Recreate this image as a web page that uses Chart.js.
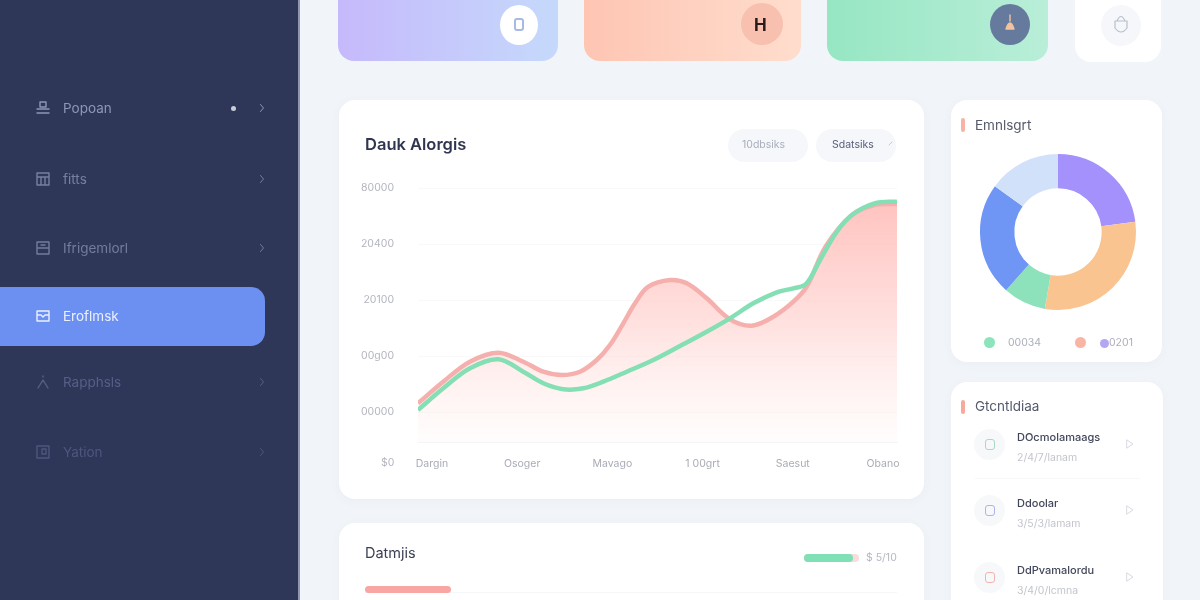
<!DOCTYPE html>
<html><head><meta charset="utf-8">
<script src="https://cdn.jsdelivr.net/npm/chart.js@4"></script>
<style>
html,body{margin:0;padding:0;width:1200px;height:600px;overflow:hidden;background:#F1F4F8;font-family:Inter,"Noto Sans",sans-serif}
.b{position:absolute;box-sizing:border-box}
.t{position:absolute;white-space:nowrap;line-height:1;transform:translateY(-50%);filter:blur(.35px)}
.card{background:#fff;border-radius:16px;box-shadow:0 2px 10px rgba(120,135,170,.05)}
canvas{position:absolute}
svg{position:absolute;overflow:visible;fill:none;stroke-linecap:round;stroke-linejoin:round}
</style></head><body>
<div class="b" style="left:0;top:0;width:299px;height:600px;background:#2F3759"></div>
<div class="b" style="left:298px;top:0;width:1.5px;height:600px;background:#8F97B4"></div>
<div class="b" style="left:0;top:287px;width:265px;height:59px;background:#6C90F1;border-radius:0 14px 14px 0"></div>
<div id="side"></div>
<div class="b" style="left:231px;top:106px;width:5px;height:5px;border-radius:50%;background:#C8CDDD"></div>

<div class="b" style="left:338px;top:-20px;width:220px;height:81px;border-radius:16px;background:linear-gradient(90deg,#C6B9FB,#C5D9FB)"></div>
<div class="b" style="left:584px;top:-20px;width:217px;height:81px;border-radius:16px;background:linear-gradient(90deg,#FEC5B3,#FFDDCD)"></div>
<div class="b" style="left:827px;top:-20px;width:221px;height:81px;border-radius:16px;background:linear-gradient(90deg,#96E6C3,#B9EED8)"></div>
<div class="b" style="left:1075px;top:-20px;width:86px;height:82px;border-radius:16px;background:#fff"></div>
<div class="b" style="left:500px;top:5px;width:38px;height:40px;border-radius:50%;background:#fff"></div>
<div class="b" style="left:514px;top:18px;width:10px;height:13px;border-radius:3px;border:2px solid #A9B9E6"></div>
<div class="b" style="left:741px;top:3px;width:42px;height:42px;border-radius:50%;background:#F8C0AE"></div>
<div class="t" style="left:754px;top:25px;font:700 17px Inter;color:#2a1c1c">H</div>
<div class="b" style="left:990px;top:4px;width:40px;height:41px;border-radius:50%;background:#657A9D"></div>
<svg style="left:1010px;top:15px" width="1" height="1"><path d="M0 0V6M-4 14Q0 2 4 14Z" fill="#F2C39F" stroke="#F2C39F" stroke-width="1.4"/></svg>
<div class="b" style="left:1101px;top:5px;width:40px;height:41px;border-radius:50%;background:#F5F7FA"></div>
<svg style="left:1121px;top:18px" width="1" height="1"><path d="M-6 3H6V10Q0 18 -6 10ZM-4 3Q0 -6 4 3" stroke="#B9BFCC" stroke-width="1.2"/></svg>

<div class="b card" style="left:339px;top:100px;width:585px;height:399px"></div>
<div class="t" style="left:365px;top:144px;font-size:16.5px;font-weight:600;color:#30364F">Dauk Alorgis</div>
<div class="b" style="left:728px;top:129px;width:80px;height:33px;border-radius:17px;background:#F5F7FB"></div>
<div class="b" style="left:816px;top:129px;width:80px;height:33px;border-radius:17px;background:#F5F7FB"></div>
<div class="t" style="left:742px;top:145px;font-size:10.5px;color:#A9AEBC">10dbsiks</div>
<div class="t" style="left:832px;top:145px;font-size:10.5px;color:#59607A">Sdatsiks</div>
<svg style="left:891px;top:144px" width="1" height="1"><path d="M-2 1L1 -2" stroke="#C5CAD5" stroke-width="1"/></svg>
<div class="t" style="left:381px;top:463px;font-size:10.5px;color:#B3B6BF">$0</div>
<canvas id="lineChart" style="left:340px;top:170px;width:580px;height:320px"></canvas>

<div class="b card" style="left:339px;top:523px;width:585px;height:110px"></div>
<div class="t" style="left:365px;top:553px;font-size:14.5px;color:#3A3F55">Datmjis</div>
<div class="b" style="left:804px;top:554px;width:55px;height:8px;border-radius:4px;background:#F9DCDC"></div>
<div class="b" style="left:804px;top:554px;width:49px;height:8px;border-radius:4px;background:#7FE0B5"></div>
<div class="t" style="left:866px;top:558px;font-size:10.5px;color:#B5B8C2">$ 5/10</div>
<div class="b" style="left:365px;top:592px;width:532px;height:1px;background:#F6F7F9"></div>
<div class="b" style="left:365px;top:586px;width:86px;height:7px;border-radius:4px;background:#F8A5A3"></div>

<div class="b card" style="left:951px;top:100px;width:211px;height:262px"></div>
<div class="b" style="left:961px;top:118px;width:4px;height:14px;border-radius:2px;background:#F7B3A6"></div>
<div class="t" style="left:975px;top:126px;font-size:13.5px;color:#555A6C">Emnlsgrt</div>
<canvas id="ringChart" style="left:968px;top:142px;width:180px;height:180px"></canvas>
<div class="b" style="left:984px;top:337px;width:11px;height:11px;border-radius:50%;background:#8DE3BB"></div>
<div class="t" style="left:1008px;top:343px;font-size:10.5px;color:#ABAFBA">00034</div>
<div class="b" style="left:1075px;top:337px;width:11px;height:11px;border-radius:50%;background:#F9B4A3"></div>
<div class="b" style="left:1100px;top:339px;width:9px;height:9px;border-radius:50%;background:#B3A7F4"></div>
<div class="t" style="left:1109px;top:343px;font-size:10.5px;color:#ABAFBA">0201</div>

<div class="b card" style="left:951px;top:382px;width:212px;height:260px"></div>
<div class="b" style="left:961px;top:400px;width:4px;height:14px;border-radius:2px;background:#F7A99E"></div>
<div class="t" style="left:975px;top:407px;font-size:13.5px;color:#555A6C">Gtcntldiaa</div>
<div id="rows"></div>

<script>
// ---- line chart data ----
const xTickPositions = [0, 1, 2, 3, 4, 5];
const xTickLabels = ["Dargin", "Osoger", "Mavago", "1 00grt", "Saesut", "Obano"];
const yTickPositions = [20000, 40000, 60000, 80000, 100000];
const yTickLabels = ["00000", "00g00", "20100", "20400", "80000"];
const pinkX = [-0.155, 0.125, 0.421, 0.735, 1.012, 1.234, 1.438, 1.641, 1.826, 1.973, 2.121, 2.251, 2.398, 2.639, 2.824, 3.045, 3.304, 3.544, 3.784, 4.006, 4.154, 4.363, 4.655, 4.905, 5.155];
const pinkY = [23107, 30821, 37964, 41179, 37964, 34393, 33214, 34393, 38571, 43929, 51678, 58821, 64750, 67143, 65964, 60607, 53107, 50821, 54036, 59393, 64750, 79046, 90356, 93927, 94283];
const greenX = [-0.155, 0.125, 0.421, 0.735, 1.012, 1.234, 1.456, 1.677, 1.899, 2.159, 2.453, 2.749, 3.045, 3.304, 3.562, 3.822, 4.006, 4.146, 4.302, 4.488, 4.655, 4.905, 5.155];
const greenY = [20714, 28464, 35607, 38821, 34393, 30250, 28107, 28464, 30821, 34393, 38571, 43571, 48679, 53464, 58821, 62750, 64179, 65714, 74286, 84400, 90356, 94523, 95118];
const yBase = 9286;
// ---- ring chart data ----
const ringLabels = ["Purple", "Orange", "Green", "Blue", "Sky"];
const ringValues = [22.9, 29.8, 8.9, 23.4, 15.0];
const ringColors = ["#A491FB", "#F9C490", "#8DE2BB", "#6F96F5", "#D2E1FA"];
// ---- page text ----
const sideLabels = ["Popoan", "fitts", "Ifrigemlorl", "Eroflmsk", "Rapphsls", "Yation"];
const rowTitles = ["DOcmolamaags", "Ddoolar", "DdPvamalordu"];
const rowSubs = ["2/4/7/lanam", "3/5/3/lamam", "3/4/0/lcmna"];

const sideY = [108, 179, 248, 316, 382, 452];
const sideCol = ["#8E96B4", "#76809F", "#727C9C", "#EAF0FF", "#565F86", "#4D577C"];
const sideIcon = [
  "M-3 -6H3V-1H-3ZM-6 1H6M-6 5H6", "M-6 -6H6V6H-6ZM-6 -2H6M-2 -2V6M2 -2V6",
  "M-6 -6H6V6H-6ZM-6 0H6M-2 -3H2", "M-6 -5H6V5H-6ZM-6 -1H-2L0 1L2 -1H6",
  "M0 -6V-5M0 -2L-5 6M0 -2L5 6", "M-6 -6H6V6H-6ZM-1 -3H3V2H-1Z"];
document.getElementById('side').innerHTML = sideLabels.map((s, i) =>
  `<svg style="left:43px;top:${sideY[i]}px" width="1" height="1"><path d="${sideIcon[i]}" stroke="${sideCol[i]}" stroke-width="1.4"/></svg>
   <div class="t" style="left:63px;top:${sideY[i]+1}px;font-size:13.5px;color:${sideCol[i]}">${s}</div>` +
  (i === 3 ? '' : `<svg style="left:262px;top:${sideY[i]}px" width="1" height="1"><path d="M-1.5 -3.5L1.5 0L-1.5 3.5" stroke="${sideCol[i]}" stroke-width="1"/></svg>`)
).join('');
const rowY = [444, 510, 577], rowIc = ["#A9D9C4", "#B3B0EC", "#F3B4AE"];
document.getElementById('rows').innerHTML = rowTitles.map((s, i) =>
  `<div class="b" style="left:974px;top:${rowY[i]-15}px;width:31px;height:31px;border-radius:50%;background:#F6F8FA"></div>
   <div class="b" style="left:985px;top:${rowY[i]-5}px;width:10px;height:11px;border-radius:3px;border:1.5px solid ${rowIc[i]}"></div>
   <div class="t" style="left:1017px;top:${rowY[i]-7}px;font-size:11px;font-weight:500;color:#41465A">${s}</div>
   <div class="t" style="left:1017px;top:${rowY[i]+14}px;font-size:10.5px;color:#C2C5CD">${rowSubs[i]}</div>
   <svg style="left:1130px;top:${rowY[i]}px" width="1" height="1"><path d="M-3 -4L3 0L-3 4Z" stroke="#D7DAE1" stroke-width="1"/></svg>`
).join('') + '<div class="b" style="left:975px;top:478px;width:165px;height:1px;background:#F7F8FA"></div>';

const toPts = (xs, ys) => xs.map((x, i) => ({x, y: ys[i]}));
const lineCanvas = document.getElementById('lineChart');
new Chart(lineCanvas, {
  type: 'line',
  data: { datasets: [
    { label: 'Green', order: 1, data: toPts(greenX, greenY), borderColor: '#85DFB5', borderWidth: 4.5,
      tension: 0.35, pointRadius: 0, fill: false },
    { label: 'Pink', order: 2, data: toPts(pinkX, pinkY), borderColor: '#F5B0AE', borderWidth: 4.5,
      tension: 0.35, pointRadius: 0, fill: {value: yBase},
      backgroundColor: (c) => {
        const a = c.chart.chartArea; if (!a) return 'transparent';
        const g = c.chart.ctx.createLinearGradient(0, a.top + 10, 0, a.bottom);
        g.addColorStop(0, 'rgba(255,190,186,.95)');
        g.addColorStop(.5, 'rgba(255,205,202,.62)');
        g.addColorStop(1, 'rgba(255,225,222,.08)');
        return g;
      } }
  ]},
  options: {
    responsive: false, animation: false, devicePixelRatio: 1,
    layout: { padding: { top: 18, right: 23, left: 0, bottom: 0 } },
    plugins: { legend: { display: false }, tooltip: { enabled: false } },
    scales: {
      x: { type: 'linear', min: -0.155, max: 5.155,
        afterBuildTicks: s => { s.ticks = xTickPositions.map(value => ({value})); },
        afterFit: s => { s.height = 48; },
        grid: { display: false }, border: { display: true, color: '#F4F4F7' },
        ticks: { autoSkip: false, maxRotation: 0, padding: 8, color: '#A9ACB6', font: { family: 'Inter', size: 10.5 },
          callback: (v) => xTickLabels[xTickPositions.indexOf(v)] } },
      y: { min: yBase, max: 100000,
        afterBuildTicks: s => { s.ticks = yTickPositions.map(value => ({value})); },
        afterFit: s => { s.width = 78; s.paddingTop = 0; s.paddingBottom = 0; },
        grid: { color: '#F9F9FA', drawTicks: false }, border: { display: false },
        ticks: { padding: 24, color: '#B3B6BF', font: { family: 'Inter', size: 10.5 },
          callback: (v) => yTickLabels[yTickPositions.indexOf(v)] } }
    }
  }
});
lineCanvas.style.left = '340px'; lineCanvas.style.top = '170px';

const ringCanvas = document.getElementById('ringChart');
new Chart(ringCanvas, {
  type: 'doughnut',
  data: { labels: ringLabels, datasets: [{ data: ringValues, backgroundColor: ringColors, borderWidth: 0 }] },
  options: { responsive: false, animation: false, devicePixelRatio: 1, cutout: '56%', radius: 78,
    plugins: { legend: { display: false }, tooltip: { enabled: false } } }
});
</script>
</body></html>
